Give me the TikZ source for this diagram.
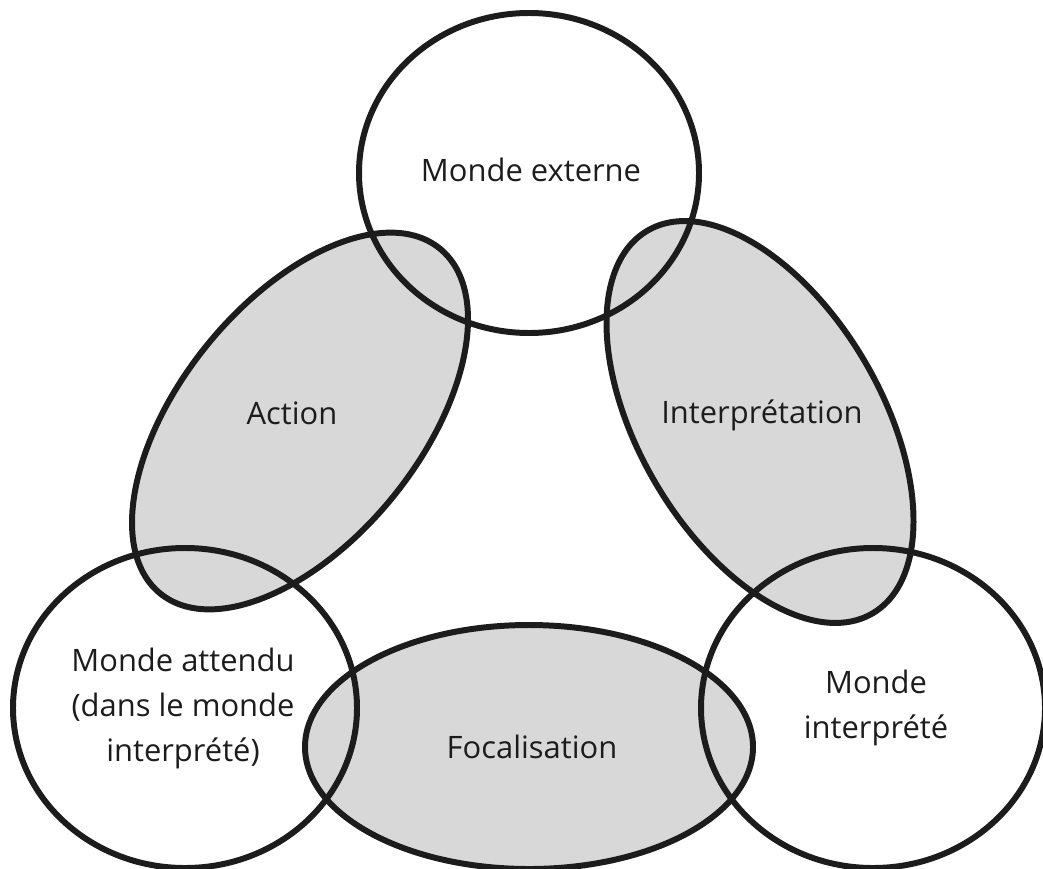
\documentclass[tikz,border=0pt]{standalone}
\usepackage{fontspec}
\setmainfont{Open Sans}
\definecolor{zonegray}{RGB}{216,216,216}
\definecolor{inkgray}{RGB}{28,28,28}

\begin{document}
\begin{tikzpicture}[x=0.02cm, y=-0.02cm,
  rim/.style={line width=3.4pt, draw=inkgray},
  zone/.style={fill=zonegray},
  lbl/.style={text=inkgray, align=center, font=\fontsize{17.6}{25.6}\selectfont}]
\useasboundingbox (0, 0) rectangle (1043, 868);

\fill[zone, rotate around={51:(300, 421)}] (300, 421) ellipse (222 and 120);
\fill[zone, rotate around={-59.5:(760, 422)}] (760, 422) ellipse (222 and 121);
\fill[zone] (529, 747) ellipse (224 and 122);

\draw[rim] (529, 173) ellipse (170 and 160);
\draw[rim] (185, 708) ellipse (172 and 160);
\draw[rim] (873, 708) ellipse (172 and 160);
\draw[rim, rotate around={51:(300, 421)}] (300, 421) ellipse (222 and 120);
\draw[rim, rotate around={-59.5:(760, 422)}] (760, 422) ellipse (222 and 121);
\draw[rim] (529, 747) ellipse (224 and 122);

\node[lbl] (externe) at (531, 170) {Monde externe};
\node[lbl] (action) at (292, 413) {Action};
\node[lbl] (interp) at (762, 415) {Interprétation};
\node[lbl] (attendu) at (183, 708) {Monde attendu\\(dans le monde\\interprété)};
\node[lbl] (focal) at (532, 747) {Focalisation};
\node[lbl] (interprete) at (876, 708) {Monde\\interprété};
\end{tikzpicture}
\end{document}
